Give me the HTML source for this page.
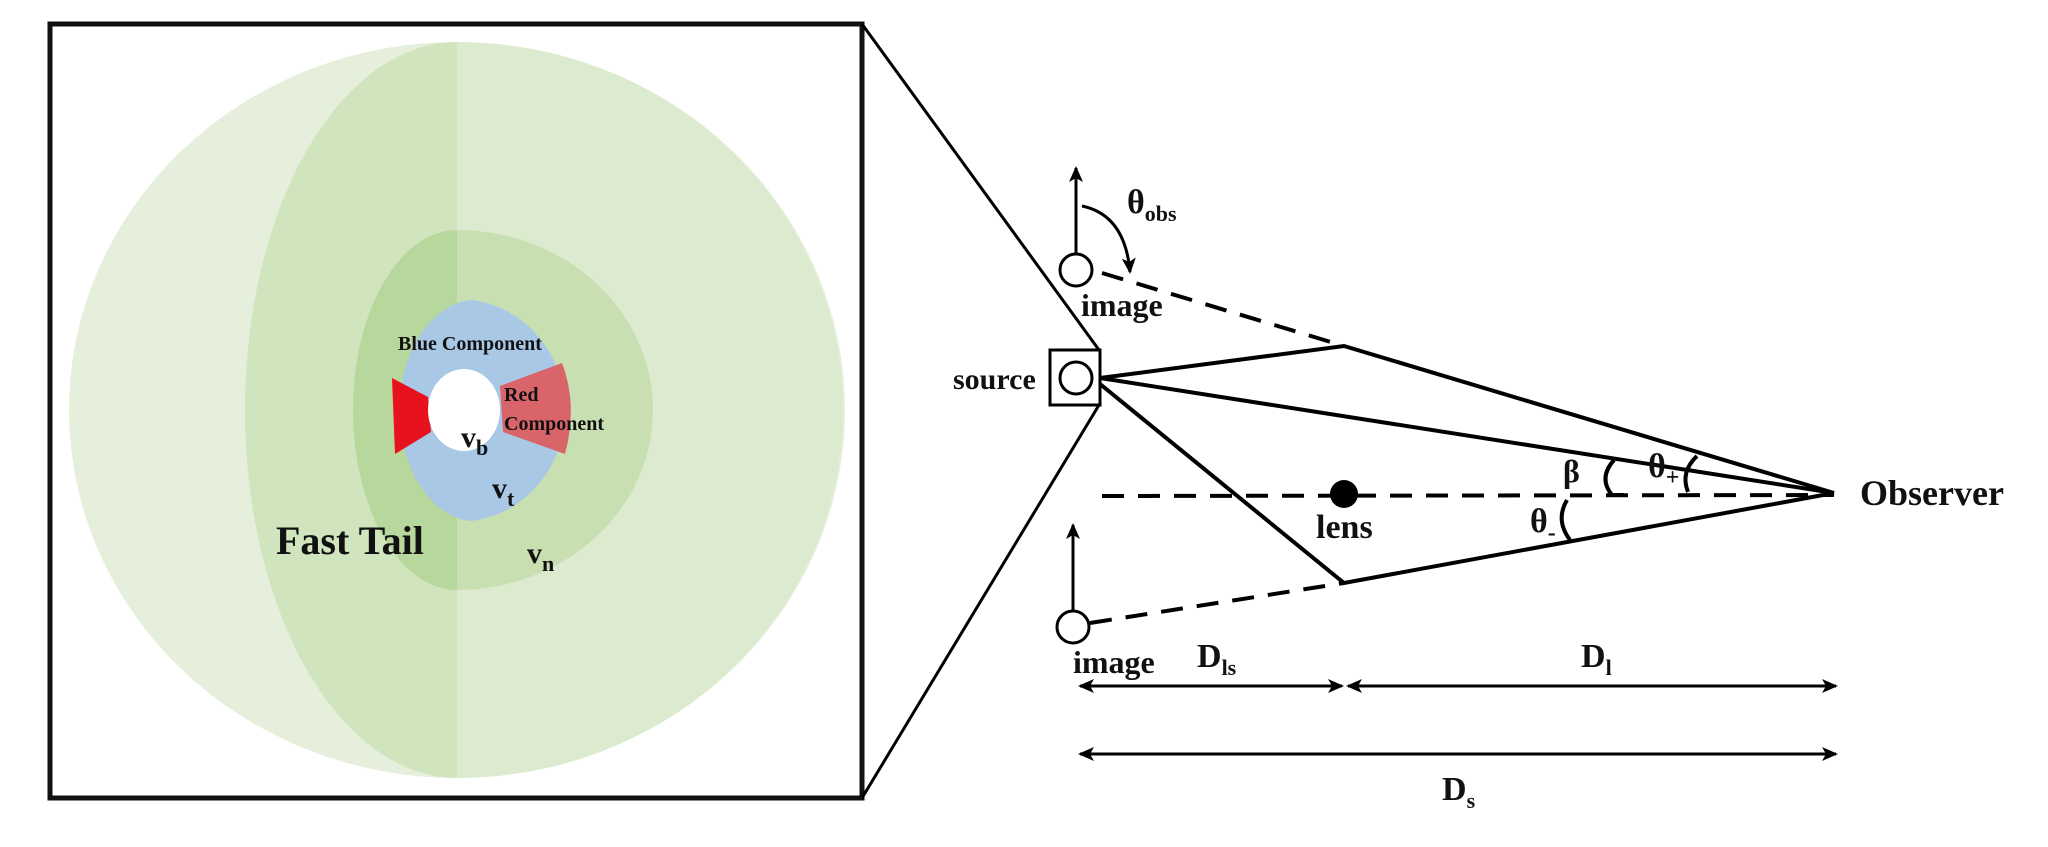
<!DOCTYPE html>
<html><head><meta charset="utf-8"><style>
html,body{margin:0;padding:0;background:#fff;}
svg{display:block;}
text{font-family:"Liberation Serif",serif;font-weight:bold;fill:#111;}
</style></head><body>
<svg width="2048" height="847" viewBox="0 0 2048 847" xmlns="http://www.w3.org/2000/svg">
<defs>
<marker id="ah" markerWidth="16" markerHeight="14" refX="14" refY="7" orient="auto-start-reverse" markerUnits="userSpaceOnUse">
<path d="M0,0 L16,7 L0,14 L4,7 Z" fill="#000"/>
</marker>
</defs>
<ellipse cx="457" cy="410" rx="388" ry="368" fill="#e5efdb"/>
<path d="M457,42 A386,368 0 0 1 457,778 Z" fill="#dcebcf"/>
<path d="M457,42 A212,368 0 0 0 457,778 Z" fill="#d0e4be"/>
<path d="M457,230 A104,180 0 0 0 457,590 Z" fill="#b8d79c"/>
<path d="M457,230 A196,180 0 0 1 457,590 Z" fill="#c8dfb1"/>
<path d="M470,300 A78,111 0 0 0 470,521 Z" fill="#a9c8e6"/>
<path d="M470,300 A105,111 0 0 1 470,521 Z" fill="#a9c8e6"/>
<polygon points="392,378 428,397 431,432 395,454" fill="#e8121e"/>
<path d="M500,386 L562,363 Q578,405 565,454 L503,432 Z" fill="#d9646a"/>
<ellipse cx="464" cy="410" rx="36" ry="41" fill="#fff"/>
<rect x="50" y="24" width="812" height="774" fill="none" stroke="#111" stroke-width="5"/>
<text x="398" y="350" font-size="20">Blue Component</text>
<text x="504" y="401" font-size="20">Red</text>
<text x="504" y="430" font-size="20">Component</text>
<text x="461" y="447" font-size="30">v<tspan font-size="22" dy="8">b</tspan></text>
<text x="492" y="498" font-size="30">v<tspan font-size="22" dy="8">t</tspan></text>
<text x="527" y="563" font-size="30">v<tspan font-size="22" dy="8">n</tspan></text>
<text x="276" y="554" font-size="40">Fast Tail</text>
<line x1="862" y1="24" x2="1099" y2="350" stroke="#000" stroke-width="3"/>
<line x1="862" y1="798" x2="1099" y2="405" stroke="#000" stroke-width="3"/>
<rect x="1050" y="350" width="50" height="55" fill="none" stroke="#000" stroke-width="3"/>
<circle cx="1076" cy="378" r="16" fill="#fff" stroke="#000" stroke-width="3"/>
<circle cx="1076" cy="270" r="16" fill="#fff" stroke="#000" stroke-width="3"/>
<circle cx="1073" cy="627" r="16" fill="#fff" stroke="#000" stroke-width="3"/>
<line x1="1076" y1="254" x2="1076" y2="168" stroke="#000" stroke-width="3" marker-end="url(#ah)"/>
<line x1="1073" y1="611" x2="1073" y2="525" stroke="#000" stroke-width="3" marker-end="url(#ah)"/>
<path d="M1082,206 Q1125,215 1130,272" fill="none" stroke="#000" stroke-width="3" marker-end="url(#ah)"/>
<g stroke="#000" stroke-width="4" stroke-dasharray="22,14" fill="none">
<line x1="1102" y1="273" x2="1344" y2="346"/>
<line x1="1090" y1="623" x2="1344" y2="583"/>
<line x1="1102" y1="496" x2="1834" y2="495"/>
</g>
<g stroke="#000" stroke-width="4" fill="none">
<polyline points="1100,378 1344,346 1834,493"/>
<line x1="1100" y1="378" x2="1834" y2="493"/>
<polyline points="1100,384 1344,583 1834,493"/>
<path d="M1614,460 Q1598,478 1612,495 L1624,495"/>
<path d="M1697,456 Q1680,472 1688,492"/>
<path d="M1567,500 Q1555,520 1570,540"/>
</g>
<circle cx="1344" cy="494" r="14" fill="#000"/>
<text x="1127" y="213" font-size="34">θ<tspan font-size="22" dy="8">obs</tspan></text>
<text x="1081" y="316" font-size="32">image</text>
<text x="1073" y="673" font-size="32">image</text>
<text x="953" y="389" font-size="30">source</text>
<text x="1316" y="538" font-size="34">lens</text>
<text x="1860" y="505" font-size="36">Observer</text>
<text x="1563" y="482" font-size="32">β</text>
<text x="1648" y="477" font-size="34">θ<tspan font-size="24" dy="8">+</tspan></text>
<text x="1530" y="532" font-size="34">θ<tspan font-size="24" dy="8">-</tspan></text>
<g stroke="#000" stroke-width="3">
<line x1="1080" y1="686" x2="1342" y2="686" marker-end="url(#ah)" marker-start="url(#ah)"/>
<line x1="1348" y1="686" x2="1836" y2="686" marker-end="url(#ah)" marker-start="url(#ah)"/>
<line x1="1080" y1="754" x2="1836" y2="754" marker-end="url(#ah)" marker-start="url(#ah)"/>
</g>
<text x="1197" y="667" font-size="34">D<tspan font-size="22" dy="8">ls</tspan></text>
<text x="1581" y="667" font-size="34">D<tspan font-size="22" dy="8">l</tspan></text>
<text x="1442" y="800" font-size="34">D<tspan font-size="22" dy="8">s</tspan></text>
</svg>
</body></html>
